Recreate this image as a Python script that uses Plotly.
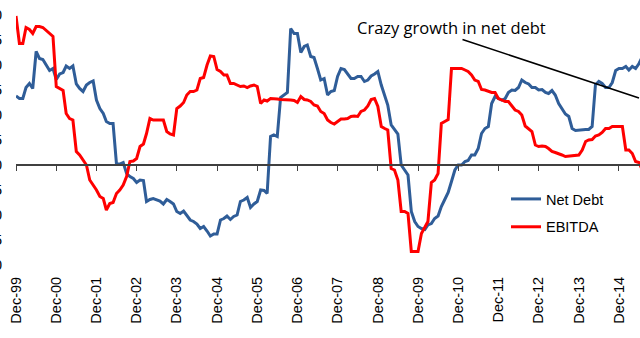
import pandas as pd
import plotly.graph_objects as go

# Monthly values starting Dec-99
net_debt = [
    13.8, 13.3, 13.3, 15.5, 16.3, 15.3, 22.7, 21.3, 21.1, 20.0, 18.9, 19.3,
    17.1, 18.2, 18.5, 19.8, 19.3, 19.8, 16.2, 15.3, 14.7, 16.0, 16.5, 16.8,
    13.0, 11.3, 10.3, 8.7, 8.3, 8.3, 0.2, 0.2, 0.5, -1.7, -2.3, -2.7,
    -3.5, -3.0, -3.1, -7.3, -6.9, -6.7, -7.0, -7.2, -7.8, -6.9, -7.3, -7.8,
    -9.3, -9.7, -9.2, -10.2, -11.0, -11.3, -11.8, -12.7, -12.3, -13.2, -14.2, -13.8,
    -13.8, -11.0, -10.7, -10.2, -10.9, -10.3, -10.0, -7.3, -7.0, -6.5, -8.5, -7.8,
    -7.3, -5.0, -5.1, -5.7, 5.7, 6.0, 5.7, 13.5, 14.0, 14.5, 27.3, 26.3,
    26.3, 22.5, 23.7, 24.0, 21.7, 21.5, 19.3, 17.0, 17.3, 14.0, 14.7, 14.9,
    17.7, 19.3, 19.1, 18.3, 17.3, 17.3, 17.7, 17.7, 16.7, 17.0, 17.8, 18.2,
    18.7, 16.0, 13.7, 12.0, 8.0, 7.0, 6.2, 0.0, -1.0, -2.0, -9.3, -11.3,
    -12.3, -12.7, -12.9, -12.0, -11.7, -10.7, -10.2, -8.3, -6.9, -5.5, -3.3, -1.0,
    0.0, 0.0, 0.7, 0.9, 2.0, 2.0, 3.3, 6.3, 7.3, 7.7, 12.3, 13.7,
    13.3, 13.0, 13.3, 14.5, 15.0, 14.9, 15.5, 17.0, 16.5, 16.2, 15.5, 15.5,
    15.0, 15.1, 14.5, 14.3, 14.9, 14.0, 12.3, 11.3, 10.2, 9.7, 7.3, 6.9,
    7.0, 7.0, 7.1, 7.1, 7.7, 16.0, 16.7, 16.3, 15.5, 15.5, 16.5, 18.9,
    19.3, 19.3, 19.7, 19.0, 19.7, 19.3, 20.3, 21.7,
]

ebitda = [
    29.8, 24.3, 24.3, 27.5, 27.1, 26.3, 27.7, 27.7, 27.5, 26.9, 26.3, 25.7,
    15.7, 15.3, 14.9, 10.3, 9.3, 9.0, 2.7, 2.0, 1.0, 0.0, -3.0, -4.0,
    -5.0, -6.3, -6.7, -9.0, -7.7, -7.5, -5.7, -5.0, -4.0, -2.3, 0.7, 0.8,
    1.3, 3.7, 4.2, 6.3, 9.3, 9.0, 9.0, 9.0, 9.0, 6.7, 6.2, 6.0,
    11.3, 11.8, 12.5, 14.0, 14.7, 14.7, 15.0, 17.3, 17.5, 20.0, 21.8, 21.7,
    19.1, 18.7, 18.0, 18.0, 16.3, 16.3, 16.0, 15.7, 15.8, 15.5, 15.8, 16.0,
    15.7, 12.3, 13.0, 12.8, 13.3, 13.3, 13.2, 13.1, 13.1, 13.0, 13.0, 12.9,
    12.5, 13.7, 13.1, 13.0, 12.7, 12.0, 11.8, 10.7, 10.3, 9.0, 8.5, 8.2,
    8.7, 9.2, 9.2, 9.3, 9.7, 9.8, 9.7, 10.7, 11.0, 11.8, 13.1, 13.3,
    11.7, 7.7, 7.3, 7.0, -0.7, -1.0, -3.0, -9.3, -9.3, -9.7, -17.3, -17.3,
    -17.3, -13.7, -12.3, -11.3, -3.5, -3.0, -1.7, 8.3, 8.7, 9.1, 19.3, 19.3,
    19.3, 19.3, 19.0, 18.7, 18.0, 17.0, 16.7, 15.1, 15.0, 14.7, 14.5, 14.5,
    13.3, 13.0, 12.7, 12.7, 11.8, 11.0, 10.7, 10.0, 7.8, 7.3, 6.7, 4.0,
    3.7, 3.8, 3.7, 3.3, 2.7, 2.5, 2.3, 2.0, 1.7, 1.8, 1.9, 2.0,
    2.0, 3.0, 4.7, 5.0, 5.1, 5.8, 6.0, 6.5, 7.3, 7.3, 7.7, 7.7,
    7.7, 7.7, 3.0, 3.0, 2.3, 0.7, 0.5, -1.0,
]

months = pd.date_range("1999-12-01", periods=len(net_debt), freq="MS")
tick_dates = pd.date_range("1999-12-01", "2014-12-01", freq="12MS")
y_ticks = [30, 25, 20, 15, 10, 5, 0, -5, -10, -15, -20]

BLUE = "#2F5D98"
RED = "#FF0000"
x_range = ["1999-12-01", "2015-06-10"]

fig = go.Figure()
fig.add_trace(go.Scatter(
    x=months, y=net_debt, mode="lines", name="Net Debt",
    line=dict(color=BLUE, width=3), legendgroup="a",
    xaxis="x", yaxis="y",
))
fig.add_trace(go.Scatter(
    x=months, y=ebitda, mode="lines", name="EBITDA",
    line=dict(color=RED, width=3), legendgroup="b",
    xaxis="x2", yaxis="y",
))

fig.update_layout(
    width=640, height=338,
    margin=dict(l=16, r=0, t=15, b=73),
    paper_bgcolor="white", plot_bgcolor="white",
    font=dict(family="Liberation Sans, Arial, sans-serif", size=14.5, color="black"),
    showlegend=True,
    legend=dict(
        x=(506 - 16) / 624, y=(265 - 183) / 250, xanchor="left", yanchor="top",
        bgcolor="rgba(0,0,0,0)", borderwidth=0,
        tracegroupgap=6, font=dict(size=14.5),
    ),
    xaxis=dict(
        type="date", range=x_range, automargin=False,
        tickvals=tick_dates, tickformat="%b-%y", tickangle=-90,
        showgrid=False, zeroline=False, showline=False, ticks="",
        ticklabelstandoff=8,
    ),
    xaxis2=dict(
        type="date", range=x_range, overlaying="x", automargin=False,
        anchor="free", position=0.4, side="bottom",
        tickvals=tick_dates, showticklabels=False,
        showgrid=False, zeroline=False,
        showline=True, linecolor="#404040", linewidth=1.5,
        ticks="outside", ticklen=5, tickwidth=1.2, tickcolor="#404040",
    ),
    yaxis=dict(
        range=[-20, 30], tickvals=y_ticks, automargin=False,
        showgrid=False, zeroline=False, showline=False, ticks="",
        ticklabelstandoff=13,
    ),
    annotations=[
        dict(
            text="Crazy growth in net debt", xref="paper", yref="paper",
            x=(451 - 16) / 624, y=(265 - 27) / 250, xanchor="center", yanchor="middle",
            showarrow=False, font=dict(family="Open Sans, Lato, sans-serif", size=16.5, color="black"),
        ),
        dict(
            text="", xref="paper", yref="paper",
            x=1.0, y=(265 - 98) / 250,
            ax=-179, ay=-59, axref="pixel", ayref="pixel",
            showarrow=True, arrowhead=0, arrowwidth=1.6, arrowcolor="black",
        ),
    ],
)

fig.write_html("out.html")
